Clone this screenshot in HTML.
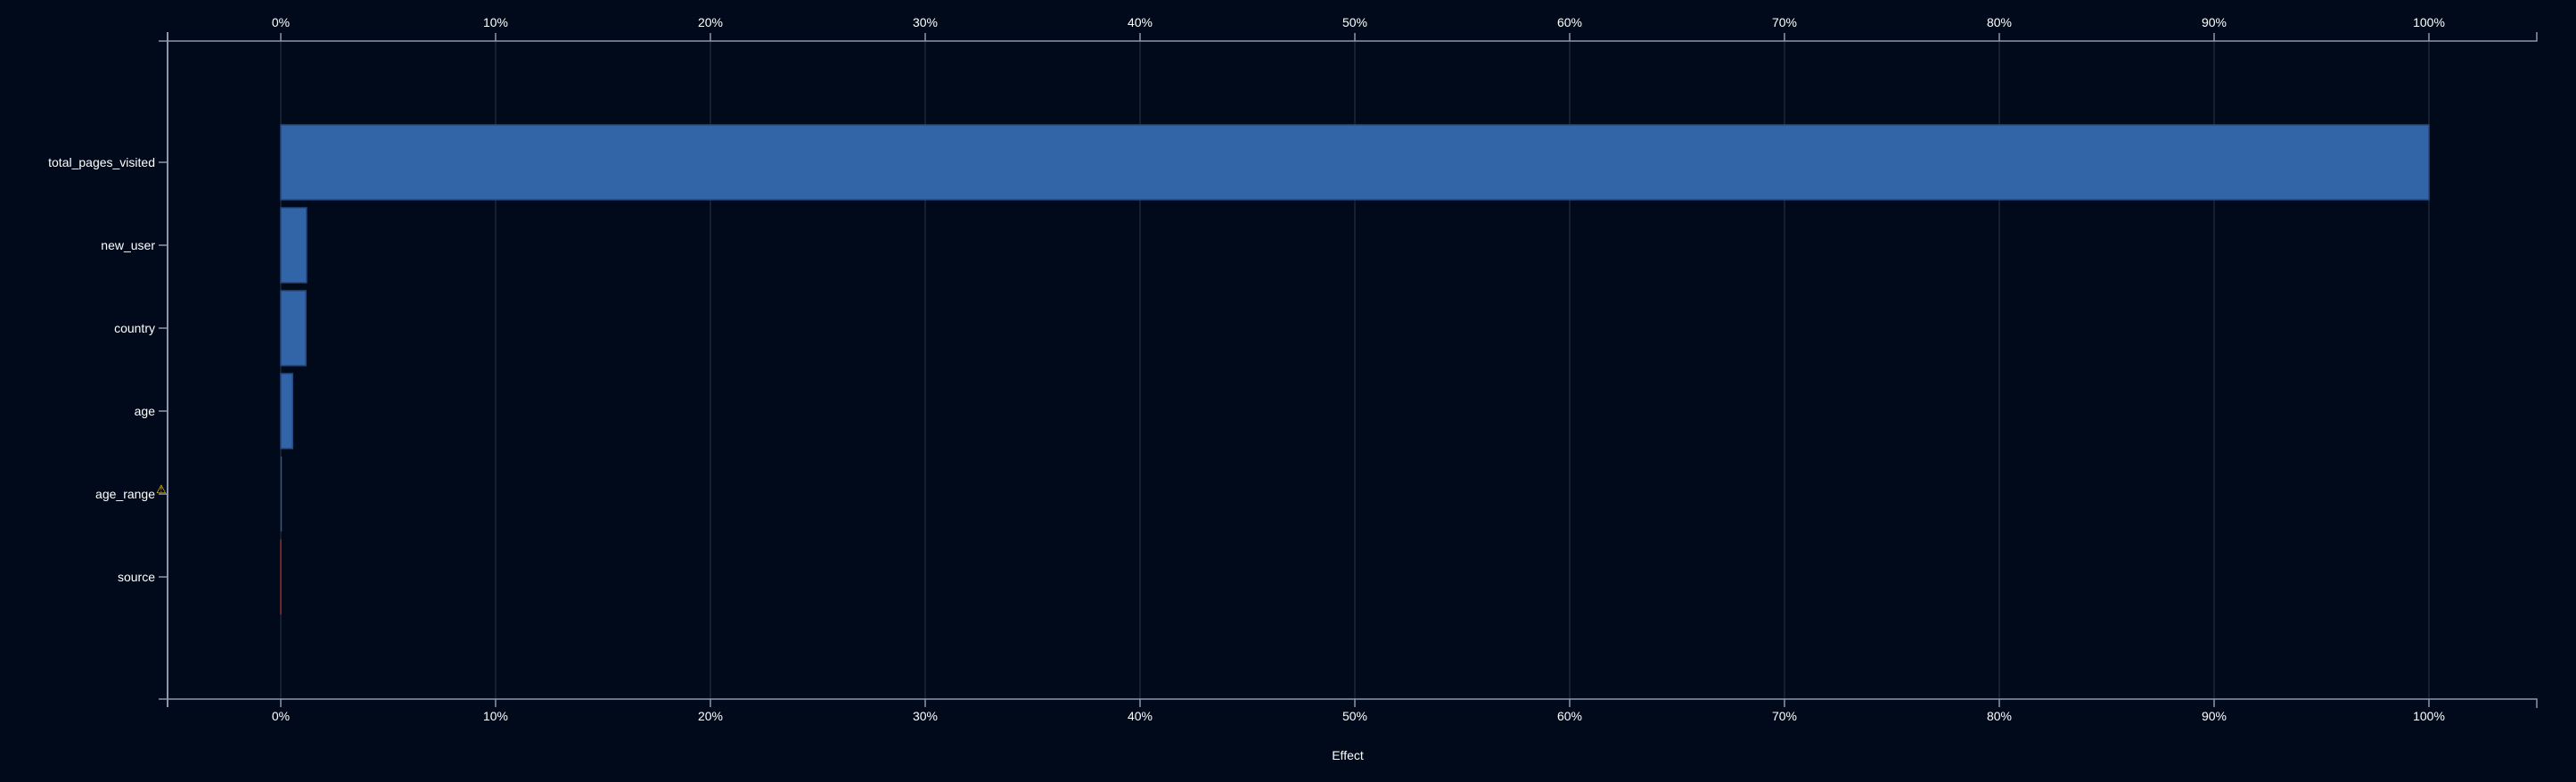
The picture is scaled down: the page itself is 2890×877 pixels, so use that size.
<!DOCTYPE html>
<html><head><meta charset="utf-8"><style>
html,body{margin:0;padding:0;background:#000a1a;}
svg{display:block;font-family:"Liberation Sans",sans-serif;}
</style></head><body>
<svg id="chart" width="2890" height="877">
<rect width="2890" height="877" fill="#000a1a"/>
<g id="grid"></g><g id="bars"></g><g id="axes"></g>
</svg>
<script>
const categories = ["total_pages_visited","new_user","country","age","age_range","source"];
const effects = [100, 1.2, 1.17, 0.55, 0.02, -0.02];
const tickValues = [0,10,20,30,40,50,60,70,80,90,100];
const tickLabels = ["0%","10%","20%","30%","40%","50%","60%","70%","80%","90%","100%"];
const warnings = [false,false,false,false,true,false];

(function(){
const NS="http://www.w3.org/2000/svg";
const X0=315, X1=2725, topY=46, bottomY=784, leftX=188, leftEnd=178, rightEnd=2846;
const xs = v => X0 + (v/100)*(X1-X0);
const ys = i => 182 + i*93;
const bandH = 84;
function mk(tag, attrs, parent, text){const e=document.createElementNS(NS,tag);for(const k in attrs)e.setAttribute(k,attrs[k]);if(text!==undefined)e.textContent=text;parent.appendChild(e);return e;}
const grid=document.getElementById('grid'), bars=document.getElementById('bars'), axes=document.getElementById('axes');

tickValues.forEach((v,i)=>{
  const x=xs(v);
  const g=mk('line',{x1:x,x2:x,y1:topY,y2:bottomY,stroke:'#1c2637','stroke-width':1.5},grid);
  
  
  mk('line',{x1:x,x2:x,y1:topY-9,y2:topY,stroke:'#8a98ad','stroke-width':1.5},axes);
  mk('line',{x1:x,x2:x,y1:bottomY,y2:bottomY+9,stroke:'#8a98ad','stroke-width':1.5},axes);
  const t1=mk('text',{x:x,y:topY-16,'text-anchor':'middle','font-size':14,fill:'#fff'},axes,tickLabels[i]);
  
  
  const t2=mk('text',{x:x,y:bottomY+24,'text-anchor':'middle','font-size':14,fill:'#fff'},axes,tickLabels[i]);
  
  
});

categories.forEach((c,i)=>{
  const v=effects[i], cy=ys(i);
  const xa=Math.min(xs(0),xs(v)), w=Math.max(Math.abs(xs(v)-xs(0)),1);
  const neg=v<0;
  const r=mk('rect',{x:xa,y:cy-bandH/2,width:w,height:bandH,fill:neg?'#a33a3a':'#3264a8',stroke:neg?'#7a2a2a':'#26487a','stroke-width':w>3?1.5:0.5},bars);
  
  
  mk('line',{x1:leftEnd,x2:leftX,y1:cy,y2:cy,stroke:'#8a98ad','stroke-width':1.5},axes);
  const t=mk('text',{x:leftEnd-4,y:cy+5,'text-anchor':'end','font-size':14,fill:'#fff'},axes,c);
  
  
  if(warnings[i]){
    const w2=mk('text',{x:leftEnd-3,y:cy-1,'font-size':13,fill:'#f5c518'},axes,'⚠');
    
    
  }
});

const yAx=mk('line',{x1:leftX,x2:leftX,y1:topY-10,y2:bottomY+9,stroke:'#8a98ad','stroke-width':2},axes);


const tAx=mk('path',{d:`M${leftEnd},${topY}H${rightEnd}V${topY-10}`,fill:'none',stroke:'#8a98ad','stroke-width':1.5},axes);


const bAx=mk('path',{d:`M${leftEnd},${bottomY}H${rightEnd}V${bottomY+10}`,fill:'none',stroke:'#8a98ad','stroke-width':1.5},axes);


const title=mk('text',{x:1512,y:852,'text-anchor':'middle','font-size':14,fill:'#fff'},axes,'Effect');


})();
</script>
</body></html>
